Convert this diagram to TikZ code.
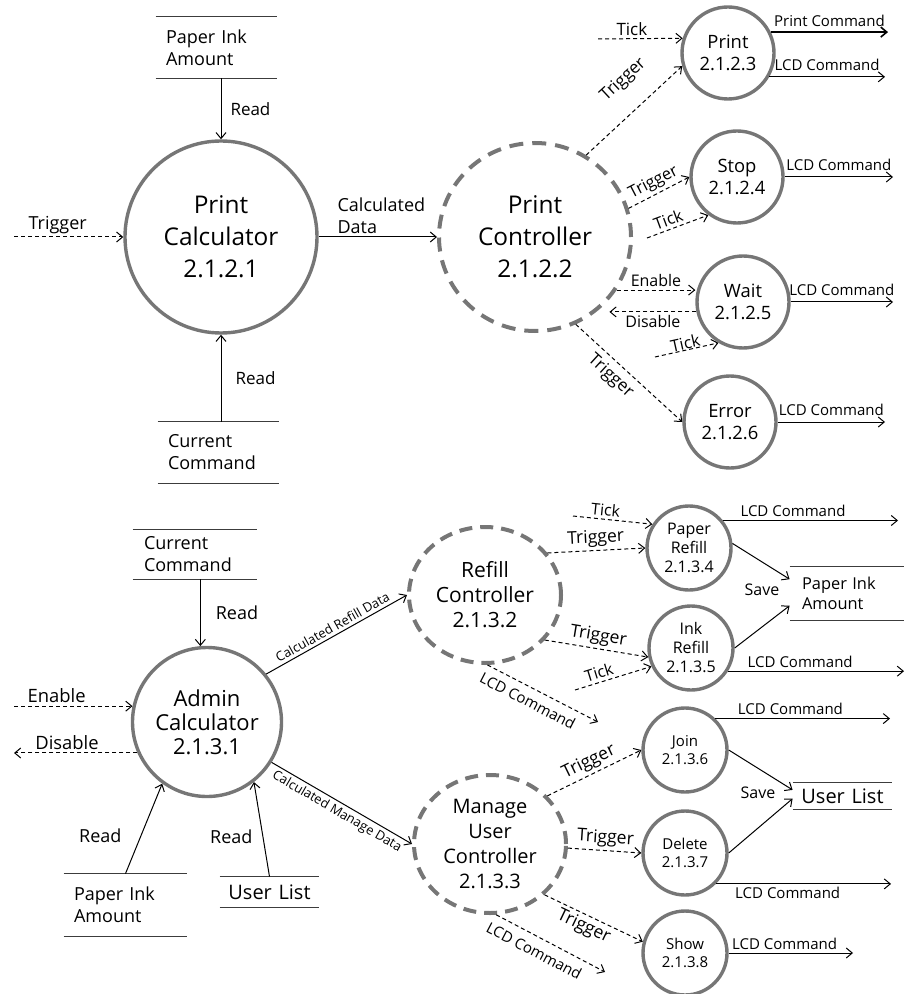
\documentclass[tikz,border=0pt]{standalone}
\usepackage{fontspec}
\setmainfont{Open Sans}
\usetikzlibrary{arrows.meta,shapes.geometric}

\definecolor{procgray}{RGB}{118,118,118}
\definecolor{storegray}{RGB}{60,60,60}

\tikzset{
	fs/.style={font=\fontsize{#1}{#1}\selectfont},
	fs2/.style 2 args={font=\fontsize{#1}{#2}\selectfont},
	proc/.style={circle, draw=procgray, line width=1.7pt, align=center, inner sep=0pt},
	ctrl/.style={ellipse, draw=procgray, line width=2pt, dash pattern=on 7pt off 4.5pt, align=center, inner sep=0pt},
	store/.style={inner ysep=0pt, inner xsep=5pt, align=left, append after command={
		(\tikzlastnode.north west) edge[draw=storegray, line width=0.8pt] (\tikzlastnode.north east)
		(\tikzlastnode.south west) edge[draw=storegray, line width=0.8pt] (\tikzlastnode.south east)}},
	flow/.style={line width=0.5pt, -{Straight Barb[length=3pt,width=5pt]}},
	ctl/.style={flow, dash pattern=on 2pt off 1.5pt},
	lbl/.style={inner sep=1.5pt}
}

\begin{document}
\begin{tikzpicture}[x=0.5pt, y=-0.5pt]
	\useasboundingbox (0,0) rectangle (909,994);
	
	%%%%% PRINT %%%%%
	
	\node[proc, minimum size=96pt, fs2={12.2}{16}] (pcalc) at (221,237) {Print\\Calculator\\2.1.2.1};
	\node[ctrl, minimum width=96pt, minimum height=94pt, fs2={12.2}{16}] (pctrl) at (535,237) {Print\\Controller\\2.1.2.2};
	\node[proc, minimum size=46pt, fs2={9.2}{11}] (prt) at (728,53) {Print\\2.1.2.3};
	\node[proc, minimum size=46pt, fs2={9.2}{11}] (stp) at (737,177) {Stop\\2.1.2.4};
	\node[proc, minimum size=46pt, fs2={9.2}{11}] (wt) at (743,302) {Wait\\2.1.2.5};
	\node[proc, minimum size=46pt, fs2={9.2}{11}] (err) at (730,422) {Error\\2.1.2.6};
	
	\node[store, text width=50.5pt, minimum height=30.5pt, fs2={9}{11}] (pia1) at (216.5,47.5) {Paper Ink\\Amount};
	\node[store, text width=50.5pt, minimum height=30.5pt, fs2={9}{11}] (cc1) at (218.5,452.5) {Current\\Command};
	
	\coordinate (trg) at (14,237);
	\coordinate (tk1) at (598,39);
	\coordinate (tk2) at (647,238);
	\coordinate (tk3) at (655,357);
	\coordinate (o1) at (888,0);
	\coordinate (o2) at (885,0);
	\coordinate (o3) at (893,0);
	
	\draw[ctl] (trg) -- (pcalc) node[lbl, pos=0.4, above, fs=9] (l1) {Trigger};
	\draw[flow] (pia1.south -| pcalc) -- (pcalc) node[lbl, midway, right=3pt, fs=8.5] (l2) {Read};
	\draw[flow] (cc1.north -| pcalc) -- (pcalc) node[lbl, midway, right=5.5pt, fs=8.5] (l3) {Read};
	\draw[flow] (pcalc) -- (pctrl) node[lbl, pos=0.53, above, align=left, fs2={9}{11}] (l4) {Calculated\\Data};
	
	\draw[ctl] (pctrl.58) -- (prt.196) node[lbl, pos=0.6, sloped, above=9pt, fs=8.5] (l5) {Trigger};
	\draw[ctl] (tk1) -- (prt.162) node[lbl, pos=0.4, above, fs=8.5] (l6) {Tick};
	\draw[flow, line width=0.8pt] (prt.26) -- (prt.26 -| o1) node[lbl, midway, above=1pt, fs=7.5] (l7) {Print Command};
	\draw[flow] (prt.-30) -- (prt.-30 -| o2) node[lbl, midway, above=1.5pt, fs=7.5] (l8) {LCD Command};
	
	\draw[ctl] (pctrl.17) -- (stp.180) node[lbl, midway, sloped, above, fs=8.2] (l9) {Trigger};
	\draw[ctl] (tk2) -- (stp.233) node[lbl, pos=0.4, sloped, above, fs=8.2] (l10) {Tick};
	\draw[flow] (stp.east) -- (stp.east -| o3) node[lbl, midway, above=1.5pt, fs=7.5] (l11) {LCD Command};
	
	\draw[ctl] (pctrl.-33) -- (pctrl.-33 -| wt.west) node[lbl, midway, above, fs=8] (l12) {Enable};
	\draw[ctl] (wt.192) -- (wt.192 -| pctrl.-40) node[lbl, midway, below, fs=8] (l13) {Disable};
	\draw[ctl] (tk3) -- (wt.239) node[midway, sloped, above, inner sep=0pt, fs=8.2] (l14) {Tick};
	\draw[flow] (wt.east) -- (wt.east -| o3) node[lbl, midway, above=1.5pt, fs=7.5] (l15) {LCD Command};
	
	\draw[ctl] (pctrl.-65) -- (err.180) node[lbl, pos=0.42, sloped, below=1.5pt, fs=8.5] (l16) {Trigger};
	\draw[flow] (err.east) -- (err.east -| o2) node[lbl, midway, above=1.5pt, fs=7.5] (l17) {LCD Command};
	
	%%%%% ADMIN %%%%%
	
	\node[proc, minimum size=74.5pt, fs2={11}{12}] (acalc) at (207,722) {Admin\\Calculator\\2.1.3.1};
	\node[ctrl, dash pattern=on 6.5pt off 4pt, minimum width=76pt, minimum height=68pt, fs2={10.5}{12.5}] (rctrl) at (485,595) {Refill\\Controller\\2.1.3.2};
	\node[ctrl, dash pattern=on 6.5pt off 4pt, minimum width=76pt, minimum height=69pt, fs2={10}{12.5}] (muc) at (490,844) {Manage\\User\\Controller\\2.1.3.3};
	\node[proc, minimum size=42pt, fs2={8}{9.5}] (pref) at (689,548) {Paper\\Refill\\2.1.3.4};
	\node[proc, minimum size=42pt, fs2={8}{9.5}] (iref) at (691,648) {Ink\\Refill\\2.1.3.5};
	\node[proc, minimum size=42pt, fs2={7.5}{8.8}] (jn) at (685,750) {Join\\2.1.3.6};
	\node[proc, minimum size=42pt, fs2={7.5}{8.8}] (dl) at (685,853) {Delete\\2.1.3.7};
	\node[proc, minimum size=42pt, fs2={7.5}{8.8}] (shw) at (685,953) {Show\\2.1.3.8};
	
	\node[store, text width=51pt, inner xsep=5.5pt, minimum height=24.5pt, fs2={9}{11}] (cc2) at (195,554.5) {Current\\Command};
	\node[store, text width=51.5pt, minimum height=31pt, fs2={9}{11}] (pia2) at (125.5,905) {Paper Ink\\Amount};
	\node[store, align=center, text width=45.5pt, inner xsep=2pt, minimum height=15pt, fs=10] (ul1) at (269.5,892) {User List};
	\node[store, text width=45pt, inner xsep=6pt, minimum height=26.5pt, fs2={8.2}{10}] (pia3) at (847,593.5) {Paper Ink\\Amount};
	\node[store, align=center, text width=45.5pt, inner xsep=2pt, minimum height=13pt, fs=10] (ul2) at (842.5,796) {User List};
	
	\coordinate (en) at (14,0);
	\coordinate (tk4) at (573,516);
	\coordinate (tk5) at (575,690);
	\coordinate (lcd1) at (598,722);
	\coordinate (lcd2) at (605,972);
	\coordinate (o5) at (898,0);
	\coordinate (o6) at (904,0);
	\coordinate (o7) at (890,0);
	\coordinate (o8) at (891,0);
	\coordinate (o9) at (853,0);
	
	\draw[flow] (cc2.south -| acalc.95) -- (acalc.95) node[lbl, midway, right=6pt, fs=9] (m1) {Read};
	\draw[ctl] (acalc.168 -| en) -- (acalc.168) node[lbl, pos=0.36, above, fs=9.2] (m2) {Enable};
	\draw[ctl] (acalc.204) -- (acalc.204 -| en) node[lbl, pos=0.57, above, fs=9.2] (m3) {Disable};
	\draw[flow] (pia2.north) -- (acalc.234) node[lbl, pos=0.42, left=8pt, fs=9] (m4) {Read};
	\draw[flow] (ul1.north) -- (acalc.-52) node[lbl, pos=0.42, left=3.5pt, fs=9] (m5) {Read};
	\draw[flow] (acalc.39) -- (rctrl.180) node[lbl, midway, sloped, above, fs=6.5] (m6) {Calculated Refill Data};
	\draw[flow] (acalc.-32) -- (muc.180) node[lbl, midway, sloped, below, fs=6.5] (m7) {Calculated Manage Data};
	
	\draw[ctl] (tk4) -- (pref.147) node[lbl, pos=0.4, sloped, above, fs=8] (m8) {Tick};
	\draw[ctl] (rctrl.34) -- (pref.180) node[lbl, midway, sloped, above, fs=8.8] (m9) {Trigger};
	\draw[ctl] (rctrl.-37) -- (iref.192) node[lbl, midway, sloped, above, fs=8.8] (m10) {Trigger};
	\draw[ctl] (tk5) -- (iref.205) node[lbl, pos=0.35, sloped, above, fs=8] (m11) {Tick};
	\draw[ctl] (rctrl.-88) -- (lcd1) node[lbl, pos=0.42, sloped, below=2pt, fs=7.5] (m12) {LCD Command};
	\draw[flow] (pref.39) -- (pref.39 -| o5) node[lbl, pos=0.4, above, fs=7.5] (m13) {LCD Command};
	\draw[flow] (pref.6) -- (pia3.166);
	\draw[flow] (iref.east) -- (pia3.192);
	\node[fs=8] (sv1) at (762,590) {Save};
	\draw[flow] (iref.-32) -- (iref.-32 -| o6) node[lbl, pos=0.41, above, fs=7.5] (m14) {LCD Command};
	
	\draw[ctl] (muc.40) -- (jn.west) node[lbl, midway, sloped, above, fs=8.8] (m15) {Trigger};
	\draw[flow] (jn.46) -- (jn.46 -| o7) node[lbl, pos=0.43, above, fs=7.5] (m16) {LCD Command};
	\draw[flow] (jn.east) -- (ul2.173);
	\draw[flow] (dl.east) -- (ul2.183);
	\node[fs=8] (sv2) at (758,793) {Save};
	\draw[ctl] (muc.-3) -- (dl.west) node[lbl, midway, sloped, above, fs=8.8] (m17) {Trigger};
	\draw[flow] (dl.-45) -- (dl.-45 -| o8) node[lbl, pos=0.41, below, fs=7.5] (m18) {LCD Command};
	\draw[ctl] (muc.-43) -- (shw.165) node[lbl, pos=0.45, sloped, below, fs=8.8] (m19) {Trigger};
	\draw[ctl] (muc.-85) -- (lcd2) node[lbl, pos=0.41, sloped, below=2.5pt, fs=7.5] (m20) {LCD Command};
	\draw[flow] (shw.east) -- (shw.east -| o9) node[lbl, pos=0.45, above, fs=7.5] (m21) {LCD Command};
	
	%%%%% END %%%%%
\end{tikzpicture}
\end{document}
